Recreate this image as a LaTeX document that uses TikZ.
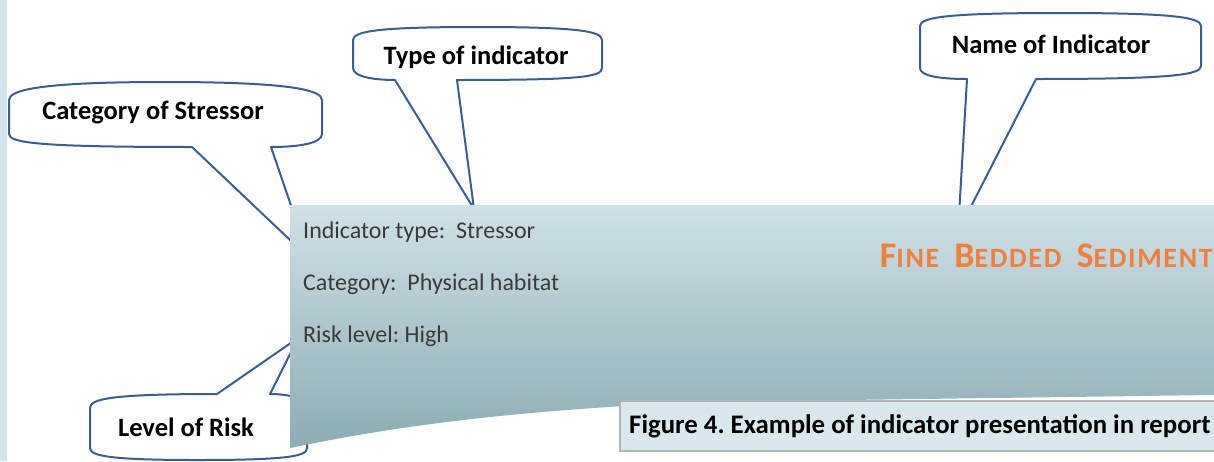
\documentclass[tikz,border=0pt]{standalone}
\usepackage{fontspec}
\setmainfont{Carlito}
\usepackage{xcolor}
\usepackage{tikz}
\frenchspacing

\definecolor{calloutblue}{RGB}{59,94,145}
\definecolor{stripblue}{RGB}{213,229,236}
\definecolor{bodytop}{RGB}{208,225,231}
\definecolor{bodybottom}{RGB}{138,172,179}
\definecolor{titleorange}{RGB}{240,128,58}
\definecolor{captionfill}{RGB}{218,232,237}
\definecolor{captionedge}{RGB}{180,180,180}
\definecolor{infogray}{RGB}{58,58,58}

\newcommand{\scword}[2]{{\fontsize{36}{36}\selectfont #1}{\fontsize{28}{28}\selectfont #2}}

\tikzset{
  callout/.style={draw=calloutblue, line width=2pt, fill=white, line join=round},
  callouttext/.style={font=\fontsize{26.5}{26.5}\selectfont\bfseries, text=black, inner sep=0pt},
  infotext/.style={font=\fontsize{24}{24}\selectfont, text=infogray, anchor=base west, inner sep=0pt},
}

\begin{document}
\begin{tikzpicture}[x=1pt, y=-1pt]
            \useasboundingbox (0,0) rectangle (1214,461);
            \clip (0,0) rectangle (1214,461);

            % left strip
            \fill[stripblue] (0,0) rectangle (7,461);

            % tips of the callouts (behind the panel)
            \coordinate (cattip) at (309,258);
            \coordinate (typetip) at (474,209);
            \coordinate (nametip) at (958,232);
            \coordinate (risktip) at (298,338);

            % Category of Stressor
            \draw[callout] (9,100) .. controls (9,90) and (40,82) .. (165,82) .. controls (290,82) and (322,90) .. (322,100)
                -- (322,134) .. controls (322,143) and (300,147) .. (271,147) -- (cattip) -- (192,147)
                .. controls (40,147) and (9,143) .. (9,134) -- cycle;
            \node[callouttext] (catlabel) at (153,113) {Category of Stressor};

            % Type of indicator
            \draw[callout] (353,40) .. controls (353,31) and (380,27) .. (478,27) .. controls (576,27) and (602,31) .. (602,40)
                -- (602,68) .. controls (602,77) and (580,80) .. (457,80) -- (typetip) -- (395,80)
                .. controls (375,80) and (353,77) .. (353,68) -- cycle;
            \node[callouttext] (typelabel) at (476,57) {Type of indicator};

            % Name of Indicator
            \draw[callout] (920,26) .. controls (920,17) and (950,13) .. (1060,13) .. controls (1170,13) and (1201,17) .. (1201,26)
                -- (1201,66) .. controls (1201,75) and (1170,79) .. (1036,79) -- (nametip) -- (967,79)
                .. controls (940,79) and (920,76) .. (920,68) -- cycle;
            \node[callouttext] (namelabel) at (1051,44) {Name of Indicator};

            % Level of Risk
            \draw[callout] (90,408) .. controls (90,399) and (110,394) .. (217,394) -- (risktip) -- (270,394)
                .. controls (290,394) and (307,399) .. (307,408) -- (307,448) .. controls (307,456) and (290,460) .. (198,460)
                .. controls (110,460) and (90,456) .. (90,448) -- cycle;
            \node[callouttext] (risklabel) at (186,427) {Level of Risk};

            % indicator panel
            \shade[top color=bodytop, middle color=bodytop!85!bodybottom, bottom color=bodybottom]
                (290,205) -- (1214,205) -- (1214,395) -- (700,402)
                .. controls (520,410) and (400,425) .. (290,448) -- cycle;
            \node[infotext] (typeinfo) at (303,238) {Indicator type:\ \ Stressor};
            \node[infotext] (catinfo) at (303,290) {Category:\ \ Physical habitat};
            \node[infotext] (riskinfo) at (303,342) {Risk level: High};
            \node[anchor=base east, inner sep=0pt, text=titleorange, font=\bfseries\addfontfeature{LetterSpace=6}] (title) at (1213,267)
                {\scword{F}{INE}\hspace{15pt}\scword{B}{EDDED}\hspace{15pt}\scword{S}{EDIMENT}};

            % caption
            \draw[draw=captionedge, line width=2.5pt, fill=captionfill] (620,401) rectangle (1224,451);
            \node[anchor=west, inner sep=0pt, font=\fontsize{26.8}{26.8}\selectfont\bfseries] (caption)
                at (629,426) {Figure 4. Example of indicator presentation in report};
        \end{tikzpicture}
\end{document}
